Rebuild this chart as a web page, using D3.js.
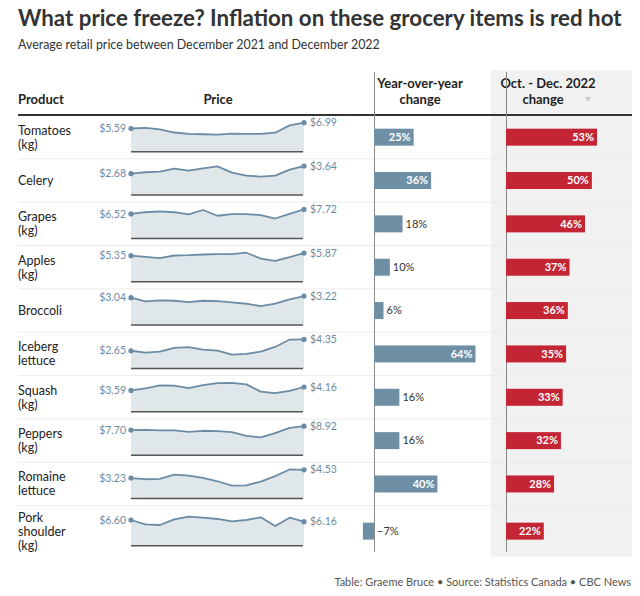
<!DOCTYPE html>
<html>
<head>
<meta charset="utf-8">
<script src="https://cdn.jsdelivr.net/npm/d3@7"></script>
<style>
  html, body { margin: 0; padding: 0; background: #fff; }
  svg { display: block; font-family: Lato, "Noto Sans", sans-serif; }
</style>
</head>
<body>
<svg id="chart" width="640" height="596"></svg>
<script>
// ---- data ----
const products = ["Tomatoes (kg)", "Celery", "Grapes (kg)", "Apples (kg)", "Broccoli",
  "Iceberg lettuce", "Squash (kg)", "Peppers (kg)", "Romaine lettuce", "Pork shoulder (kg)"];
// monthly average retail price, Dec 2021 .. Dec 2022 (13 months)
const tomatoes = [5.59, 5.75, 5.38, 4.62, 4.30, 4.20, 4.12, 4.35, 4.28, 4.28, 4.57, 6.35, 6.99];
const celery   = [2.68, 2.86, 2.94, 3.31, 3.06, 3.35, 3.60, 2.81, 2.44, 2.32, 2.43, 3.19, 3.64];
const grapes   = [6.52, 6.96, 7.21, 6.96, 6.36, 7.55, 6.02, 6.45, 6.45, 6.19, 5.29, 6.53, 7.72];
const apples   = [5.35, 5.10, 4.85, 5.38, 5.45, 5.59, 5.66, 5.66, 5.95, 4.75, 4.28, 5.03, 5.87];
const broccoli = [3.04, 2.63, 2.74, 2.70, 2.55, 2.70, 2.66, 2.52, 2.37, 2.11, 2.37, 2.85, 3.22];
const iceberg  = [2.65, 2.38, 2.53, 3.09, 3.19, 2.83, 2.68, 2.07, 2.18, 2.53, 3.22, 4.33, 4.35];
const squash   = [3.59, 3.94, 4.43, 4.38, 3.99, 4.49, 4.81, 4.87, 4.60, 3.39, 3.13, 3.50, 4.16];
const peppers  = [7.70, 7.79, 7.59, 7.59, 7.18, 7.49, 7.38, 7.08, 5.95, 5.43, 6.76, 8.41, 8.92];
const romaine  = [3.23, 3.04, 3.09, 3.78, 3.62, 3.25, 2.72, 2.03, 2.08, 2.67, 3.54, 4.58, 4.53];
const pork     = [6.60, 5.49, 5.31, 6.77, 7.46, 7.20, 6.86, 6.26, 6.60, 7.29, 5.05, 7.20, 6.16];
const priceSeries = [tomatoes, celery, grapes, apples, broccoli, iceberg, squash, peppers, romaine, pork];
const yoyChange = [25, 36, 18, 10, 6, 64, 16, 16, 40, -7];
const octDecChange = [53, 50, 46, 37, 36, 35, 33, 32, 28, 22];

const titleText = "What price freeze? Inflation on these grocery items is red hot";
const subtitleText = "Average retail price between December 2021 and December 2022";
const footerText = "Table: Graeme Bruce \u2022 Source: Statistics Canada \u2022 CBC News";

// ---- layout ----
const svg = d3.select("#chart");
const left = 18, right = 632;
const headerLineY = 115;
const lineH = 14;
const colors = { spark: "#6b8ca4", area: "#e0e7eb", bar: "#6f8fa4", red: "#c42534", text: "#222" };

// title
const title = svg.append("text").attr("x", left).attr("y", 26)
  .attr("font-size", 22).attr("font-weight", 700).attr("fill", "#333").text(titleText);
const tl = title.node().getComputedTextLength();
title.attr("font-size", 22 * 604 / tl);
const sub = svg.append("text").attr("x", left).attr("y", 49)
  .attr("font-size", 12.5).attr("fill", "#333").text(subtitleText);
const sl = sub.node().getComputedTextLength();
sub.attr("font-size", 12.5 * 362 / sl);

// rows
const rows = products.map((p, i) => ({ name: p, lines: p.split(" "), i }));
let yCursor = headerLineY + 0.5;
rows.forEach(r => {
  r.h = Math.max(43.35, r.lines.length * lineH + 9);
  r.top = yCursor; r.mid = yCursor + r.h / 2; yCursor += r.h;
});
const tableBottom = yCursor;

// grey background for last column
svg.append("rect").attr("x", 491).attr("y", 70).attr("width", right - 491)
  .attr("height", tableBottom - 70).attr("fill", "#f1f1f1");

// headers
const hdr = svg.append("g").attr("font-size", 13).attr("font-weight", 700).attr("fill", "#222");
hdr.append("text").attr("x", left).attr("y", 104).text("Product");
hdr.append("text").attr("x", 218).attr("y", 104).attr("text-anchor", "middle").text("Price");
hdr.append("text").attr("x", 420).attr("y", 88).attr("text-anchor", "middle").text("Year-over-year");
hdr.append("text").attr("x", 420).attr("y", 104).attr("text-anchor", "middle").text("change");
hdr.append("text").attr("x", 548).attr("y", 88).attr("text-anchor", "middle").text("Oct. - Dec. 2022");
hdr.append("text").attr("x", 543).attr("y", 104).attr("text-anchor", "middle").text("change");
svg.append("path").attr("d", "M585,97 L591,97 L588,102 Z").attr("fill", "#c8c8c8");

// separators
svg.selectAll("line.sep").data(rows.slice(0, -1)).join("line")
  .attr("x1", left).attr("x2", right)
  .attr("y1", d => d.top + d.h).attr("y2", d => d.top + d.h)
  .attr("stroke", "#ececec").attr("stroke-width", 1);

svg.append("line").attr("x1", left).attr("x2", right).attr("y1", headerLineY).attr("y2", headerLineY)
  .attr("stroke", "#333").attr("stroke-width", 2);

// product labels
const pl = svg.selectAll("text.prod").data(rows).join("text")
  .attr("font-size", 12.5).attr("fill", colors.text);
pl.each(function (d) {
  const t = d3.select(this);
  const n = d.lines.length;
  d.lines.forEach((ln, k) => {
    t.append("tspan").attr("x", left)
      .attr("y", d.mid + (k - (n - 1) / 2) * lineH).attr("dy", "0.35em").text(ln);
  });
});

// sparklines
const x = d3.scaleLinear().domain([0, 12]).range([131, 304]);
rows.forEach((r, i) => {
  const vals = priceSeries[i];
  const y = d3.scaleLinear().domain([0, d3.max(vals)]).range([r.mid + 14.5, r.mid - 14.5]);
  const g = svg.append("g");
  g.append("path").datum(vals)
    .attr("d", d3.area().x((d, k) => x(k)).y0(r.mid + 14.5).y1(d => y(d)))
    .attr("fill", colors.area);
  g.append("line").attr("x1", 131).attr("x2", 303).attr("y1", r.mid + 14.5).attr("y2", r.mid + 14.5)
    .attr("stroke", "#555").attr("stroke-width", 1.5);
  g.append("path").datum(vals)
    .attr("d", d3.line().x((d, k) => x(k)).y(d => y(d)))
    .attr("fill", "none").attr("stroke", colors.spark).attr("stroke-width", 1.8)
    .attr("stroke-linejoin", "round");
  [0, 12].forEach(k => {
    g.append("circle").attr("cx", x(k)).attr("cy", y(vals[k])).attr("r", 2.6).attr("fill", colors.spark);
  });
  g.append("text").attr("x", x(0) - 5).attr("y", y(vals[0])).attr("dy", "0.35em")
    .attr("text-anchor", "end").attr("font-size", 10.5).attr("fill", colors.spark)
    .text("$" + vals[0].toFixed(2));
  g.append("text").attr("x", x(12) + 6).attr("y", y(vals[12])).attr("dy", "0.35em")
    .attr("font-size", 10.5).attr("fill", colors.spark)
    .text("$" + vals[12].toFixed(2));
});

// bar columns
const xYoy = d3.scaleLinear().domain([0, 64]).range([374, 475.5]);
const xOct = d3.scaleLinear().domain([0, 53]).range([506, 597]);
const barH = 17;
const fmt = v => (v < 0 ? "\u2212" : "") + Math.abs(v) + "%";

svg.append("line").attr("x1", 374.5).attr("x2", 374.5).attr("y1", 72).attr("y2", tableBottom - 5)
  .attr("stroke", "#888").attr("stroke-width", 1);
svg.append("line").attr("x1", 506.5).attr("x2", 506.5).attr("y1", 72).attr("y2", tableBottom - 5)
  .attr("stroke", "#888").attr("stroke-width", 1);

function drawBars(values, scale, color, cls) {
  const g = svg.append("g");
  g.selectAll("rect").data(values).join("rect")
    .attr("x", d => Math.min(scale(0), scale(d)))
    .attr("width", d => Math.abs(scale(d) - scale(0)))
    .attr("y", (d, i) => rows[i].mid - barH / 2).attr("height", barH)
    .attr("fill", color);
  g.selectAll("text").data(values).join("text")
    .each(function (d, i) {
      const w = Math.abs(scale(d) - scale(0));
      const t = d3.select(this).attr("y", rows[i].mid).attr("dy", "0.35em").attr("font-size", 11).text(fmt(d));
      if (d > 0 && w > 32) {
        t.attr("x", scale(d) - 3).attr("text-anchor", "end").attr("fill", "#fff").attr("font-weight", 700);
      } else {
        t.attr("x", Math.max(scale(d), scale(0)) + 3).attr("fill", "#333");
      }
    });
}
drawBars(yoyChange, xYoy, colors.bar);
drawBars(octDecChange, xOct, colors.red);

// footer
svg.append("text").attr("x", 631).attr("y", 586).attr("text-anchor", "end")
  .attr("font-size", 11).attr("fill", "#555").text(footerText);
</script>
</body>
</html>
